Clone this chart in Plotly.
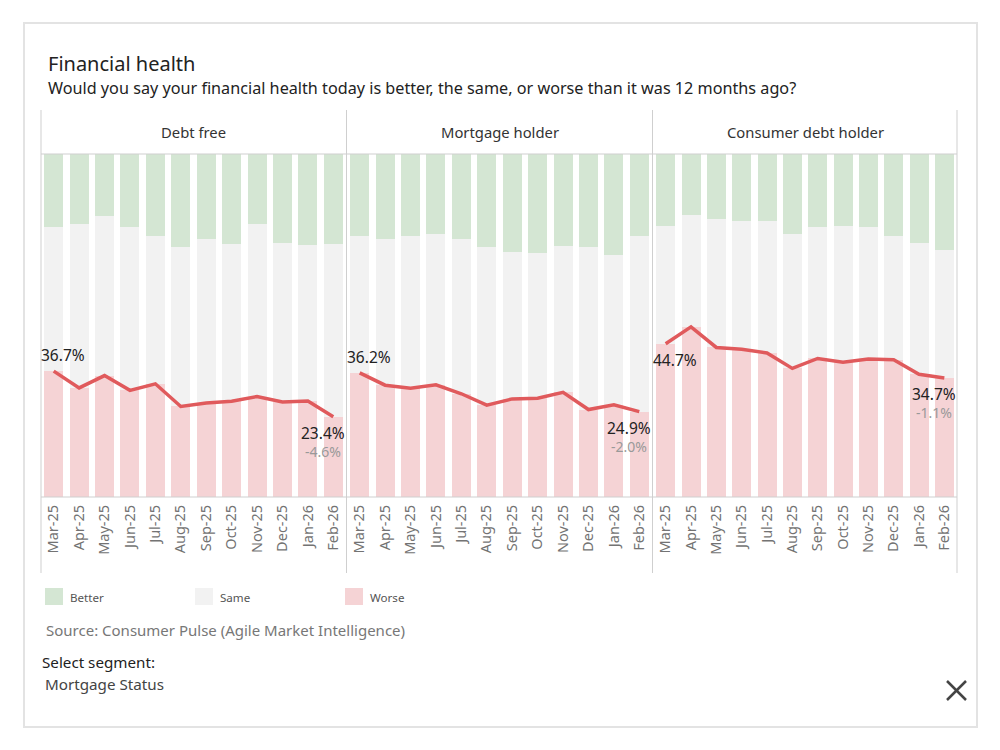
import plotly.graph_objects as go
from plotly.subplots import make_subplots

months = ["Mar-25", "Apr-25", "May-25", "Jun-25", "Jul-25", "Aug-25",
          "Sep-25", "Oct-25", "Nov-25", "Dec-25", "Jan-26", "Feb-26"]
segments = ["Debt free", "Mortgage holder", "Consumer debt holder"]

worse_debt_free = [36.7, 31.8, 35.4, 31.1, 33.0, 26.4, 27.4, 27.9, 29.3, 27.7, 28.0, 23.4]
better_debt_free = [21.4, 20.3, 18.2, 21.4, 24.0, 27.2, 24.7, 26.1, 20.3, 25.9, 26.4, 26.1]

worse_mortgage = [36.2, 32.6, 31.7, 32.7, 30.1, 26.8, 28.6, 28.8, 30.5, 25.5, 26.9, 24.9]
better_mortgage = [24.0, 24.7, 24.0, 23.2, 24.7, 27.2, 28.5, 28.8, 26.9, 27.2, 29.3, 24.0]

worse_consumer = [44.7, 49.6, 43.6, 43.1, 42.0, 37.5, 40.4, 39.3, 40.2, 40.0, 35.8, 34.7]
better_consumer = [21.1, 17.7, 18.9, 19.6, 19.6, 23.2, 21.4, 21.1, 21.4, 24.0, 25.9, 27.9]

worse_all = [worse_debt_free, worse_mortgage, worse_consumer]
better_all = [better_debt_free, better_mortgage, better_consumer]

C_BETTER = "#d4e6d3"
C_SAME = "#f2f2f2"
C_WORSE = "#f5d3d5"
C_LINE = "#e05a5c"
FONT = "Noto Sans"

OFF = 8  # page body margin
W, H = 1000 - OFF, 750 - OFF
def px(x):
    return (x - OFF) / W
def py(y):
    return 1 - (y - OFF) / H

fig = make_subplots(rows=1, cols=3, horizontal_spacing=0)

for i in range(3):
    worse = worse_all[i]
    better = better_all[i]
    same = [round(100 - w - b, 1) for w, b in zip(worse, better)]
    c = i + 1
    fig.add_trace(go.Bar(x=months, y=worse, marker_color=C_WORSE, name="Worse",
                         showlegend=False, marker_line_width=0), row=1, col=c)
    fig.add_trace(go.Bar(x=months, y=same, marker_color=C_SAME, name="Same",
                         showlegend=False, marker_line_width=0), row=1, col=c)
    fig.add_trace(go.Bar(x=months, y=better, marker_color=C_BETTER, name="Better",
                         showlegend=False, marker_line_width=0), row=1, col=c)
    fig.add_trace(go.Scatter(x=months, y=worse, mode="lines",
                             line=dict(color=C_LINE, width=3.5),
                             showlegend=False, name="Worse"), row=1, col=c)

domains = [(41, 346), (347, 652), (653, 957)]
for i, (a, b) in enumerate(domains):
    xa = "xaxis" if i == 0 else f"xaxis{i+1}"
    ya = "yaxis" if i == 0 else f"yaxis{i+1}"
    fig.layout[xa].update(domain=[px(a), px(b)], range=[-0.5, 11.5],
                          tickangle=-90, tickfont=dict(family=FONT, size=14.5, color="#737373"),
                          ticklabelstandoff=4,
                          showgrid=False, zeroline=False, showline=False, ticks="",
                          fixedrange=True)
    fig.layout[ya].update(domain=[py(497), py(154)], range=[0, 100],
                          showticklabels=False, showgrid=False, zeroline=False,
                          showline=False, fixedrange=True)

shapes = []
# card border
shapes.append(dict(type="rect", xref="paper", yref="paper", x0=px(24), x1=px(977),
                   y0=py(727), y1=py(23), line=dict(color="#e3e3e3", width=2)))
# vertical panel lines
for x in [41, 346.5, 652.5, 957]:
    shapes.append(dict(type="line", xref="paper", yref="paper", x0=px(x), x1=px(x),
                       y0=py(573), y1=py(110), line=dict(color="#cfcfcf", width=1)))
# horizontal lines
for y in [154, 497]:
    shapes.append(dict(type="line", xref="paper", yref="paper", x0=px(41), x1=px(957),
                       y0=py(y), y1=py(y), line=dict(color="#cfcfcf", width=1)))
# legend squares
leg = [("Better", C_BETTER, 45), ("Same", C_SAME, 195), ("Worse", C_WORSE, 345)]
for name, col, x in leg:
    shapes.append(dict(type="rect", xref="paper", yref="paper", x0=px(x), x1=px(x + 18),
                       y0=py(605), y1=py(588), fillcolor=col, line=dict(width=0)))
# close X
shapes.append(dict(type="line", xref="paper", yref="paper", x0=px(947), x1=px(966),
                   y0=py(681), y1=py(700), line=dict(color="#444444", width=2.5)))
shapes.append(dict(type="line", xref="paper", yref="paper", x0=px(947), x1=px(966),
                   y0=py(700), y1=py(681), line=dict(color="#444444", width=2.5)))

ann = []
ann.append(dict(text="Financial health", xref="paper", yref="paper", x=px(46), y=py(63),
                xanchor="left", yanchor="middle", showarrow=False,
                font=dict(family=FONT, size=20, color="#222222")))
ann.append(dict(text="Would you say your financial health today is better, the same, or worse than it was 12 months ago?",
                xref="paper", yref="paper", x=px(46), y=py(88), xanchor="left", yanchor="middle",
                showarrow=False, font=dict(family=FONT, size=16.2, color="#222222")))
for (a, b), seg in zip(domains, segments):
    ann.append(dict(text=seg, xref="paper", yref="paper", x=px((a + b) / 2), y=py(132),
                    xanchor="center", yanchor="middle", showarrow=False,
                    font=dict(family=FONT, size=14.8, color="#333333")))
for name, col, x in leg:
    ann.append(dict(text=name, xref="paper", yref="paper", x=px(x + 23), y=py(597),
                    xanchor="left", yanchor="middle", showarrow=False,
                    font=dict(family=FONT, size=11.6, color="#555555")))
ann.append(dict(text="Source: Consumer Pulse (Agile Market Intelligence)", xref="paper", yref="paper",
                x=px(44), y=py(630), xanchor="left", yanchor="middle", showarrow=False,
                font=dict(family=FONT, size=15, color="#777777")))
ann.append(dict(text="Select segment:", xref="paper", yref="paper",
                x=px(40), y=py(662), xanchor="left", yanchor="middle", showarrow=False,
                font=dict(family=FONT, size=15.2, color="#222222")))
ann.append(dict(text="Mortgage Status", xref="paper", yref="paper",
                x=px(43), y=py(684), xanchor="left", yanchor="middle", showarrow=False,
                font=dict(family=FONT, size=15.2, color="#444444")))

# data labels
first_shift = [16, 16, -16]
for i in range(3):
    xr = "x" if i == 0 else f"x{i+1}"
    yr = "y" if i == 0 else f"y{i+1}"
    w = worse_all[i]
    ann.append(dict(text=f"{w[0]:.1f}%", xref=xr, yref=yr, x=-0.5, y=w[0],
                    xanchor="left", yanchor="middle", yshift=first_shift[i], xshift=-2,
                    showarrow=False, font=dict(family=FONT, size=15.5, color="#222222")))
    diff = w[-1] - w[-2]
    ann.append(dict(text=f"{w[-1]:.1f}%", xref=xr, yref=yr, x=11.5, y=w[-1],
                    xanchor="right", yanchor="middle", yshift=-16, xshift=1, showarrow=False,
                    font=dict(family=FONT, size=15.5, color="#222222")))
    ann.append(dict(text=f"{diff:.1f}%", xref=xr, yref=yr, x=11.5, y=w[-1],
                    xanchor="right", yanchor="middle", yshift=-35, xshift=-3, showarrow=False,
                    font=dict(family=FONT, size=14, color="#999999")))

fig.update_layout(width=W, height=H, margin=dict(l=0, r=0, t=0, b=0),
                  paper_bgcolor="white", plot_bgcolor="white",
                  barmode="stack", bargap=0.25, showlegend=False,
                  shapes=shapes, annotations=ann, font=dict(family=FONT))

fig.write_html("out.html")
